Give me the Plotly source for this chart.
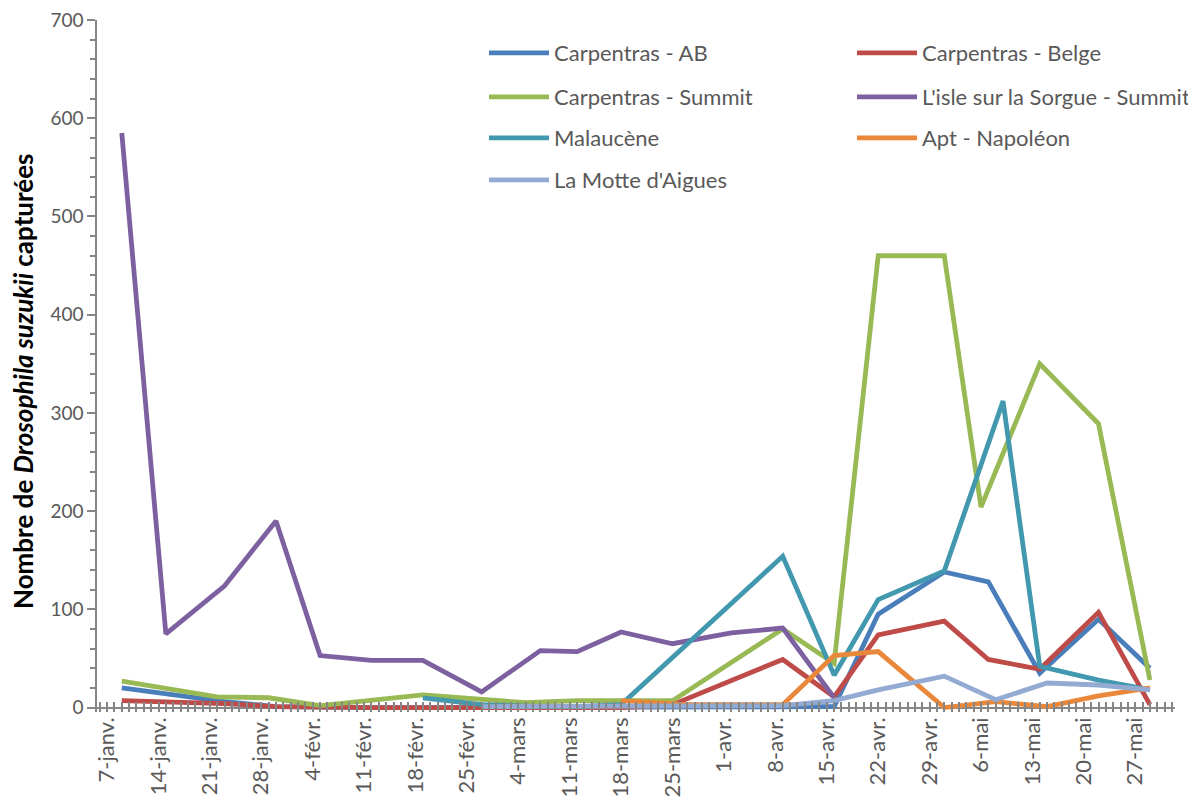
import plotly.graph_objects as go

# ---------------- data ----------------
week_ticks = ["2013-01-07", "2013-01-14", "2013-01-21", "2013-01-28", "2013-02-04",
              "2013-02-11", "2013-02-18", "2013-02-25", "2013-03-04", "2013-03-11",
              "2013-03-18", "2013-03-25", "2013-04-01", "2013-04-08", "2013-04-15",
              "2013-04-22", "2013-04-29", "2013-05-06", "2013-05-13", "2013-05-20",
              "2013-05-27"]
week_labels = ["7-janv.", "14-janv.", "21-janv.", "28-janv.", "4-févr.", "11-févr.",
               "18-févr.", "25-févr.", "4-mars", "11-mars", "18-mars", "25-mars",
               "1-avr.", "8-avr.", "15-avr.", "22-avr.", "29-avr.", "6-mai",
               "13-mai", "20-mai", "27-mai"]

ab_dates = ["2013-01-09", "2013-01-23", "2013-01-30", "2013-02-05", "2013-02-12",
            "2013-02-19", "2013-02-27", "2013-03-07", "2013-03-12", "2013-03-18",
            "2013-03-25", "2013-04-02", "2013-04-09", "2013-04-16", "2013-04-22",
            "2013-05-01", "2013-05-07", "2013-05-14", "2013-05-22", "2013-05-29"]
ab_values = [20, 6, 1, 0, 0, 0, 0, 0, 0, 0, 0, 0, 0, 1, 95, 138, 128, 35, 90, 40]

belge_dates = ["2013-01-09", "2013-01-23", "2013-01-30", "2013-02-05", "2013-02-12",
               "2013-02-19", "2013-02-27", "2013-03-07", "2013-03-12", "2013-03-18",
               "2013-03-25", "2013-04-09", "2013-04-16", "2013-04-22", "2013-05-01",
               "2013-05-07", "2013-05-14", "2013-05-22", "2013-05-29"]
belge_values = [7, 4, 1, 0, 0, 0, 0, 0, 0, 0, 3, 49, 11, 74, 88, 49, 39, 97, 3]

summit_dates = ["2013-01-09", "2013-01-22", "2013-01-29", "2013-02-05", "2013-02-19",
                "2013-03-05", "2013-03-12", "2013-03-18", "2013-03-25", "2013-04-09",
                "2013-04-16", "2013-04-22", "2013-05-01", "2013-05-06", "2013-05-14",
                "2013-05-22", "2013-05-29"]
summit_values = [27, 11, 10, 2, 13, 5, 7, 7, 7, 80, 45, 460, 460, 204, 350, 289, 28]

isle_dates = ["2013-01-09", "2013-01-15", "2013-01-23", "2013-01-30", "2013-02-05",
              "2013-02-12", "2013-02-19", "2013-02-27", "2013-03-07", "2013-03-12",
              "2013-03-18", "2013-03-25", "2013-04-02", "2013-04-09", "2013-04-16"]
isle_values = [585, 75, 124, 190, 53, 48, 48, 16, 58, 57, 77, 65, 76, 81, 10]

malau_dates = ["2013-02-19", "2013-02-27", "2013-03-07", "2013-03-12", "2013-03-18",
               "2013-04-09", "2013-04-16", "2013-04-22", "2013-05-01", "2013-05-09",
               "2013-05-14", "2013-05-22", "2013-05-29"]
malau_values = [10, 3, 1, 1, 3, 154, 33, 110, 139, 312, 42, 28, 18]

apt_dates = ["2013-03-18", "2013-03-27", "2013-04-09", "2013-04-16", "2013-04-22",
             "2013-05-01", "2013-05-08", "2013-05-15", "2013-05-22", "2013-05-29"]
apt_values = [7, 3, 3, 53, 57, 0, 6, 1, 12, 20]

motte_dates = ["2013-02-27", "2013-03-07", "2013-03-12", "2013-03-18", "2013-03-25",
               "2013-04-02", "2013-04-09", "2013-04-16", "2013-04-22", "2013-05-01",
               "2013-05-08", "2013-05-15", "2013-05-22", "2013-05-29"]
motte_values = [1, 1, 1, 2, 2, 2, 2, 7, 18, 32, 8, 25, 23, 18]

series_names = ["Carpentras - AB", "Carpentras - Belge", "Carpentras - Summit",
                "L'isle sur la Sorgue - Summit", "Malaucène", "Apt - Napoléon",
                "La Motte d'Aigues"]
series_dates = [ab_dates, belge_dates, summit_dates, isle_dates, malau_dates,
                apt_dates, motte_dates]
series_values = [ab_values, belge_values, summit_values, isle_values, malau_values,
                 apt_values, motte_values]

# ---------------- style ----------------
colors = ["#4A7EBB", "#BE4B48", "#98B954", "#7D60A0", "#4198AF", "#E9883B", "#93AAD2"]
FONT = "Lato"
GREY = "#595959"
AXIS = "#868686"

OFF = 8                      # page body margin offset (top/left)
W, H = 1196 - OFF, 799 - OFF
ML, MR, MT, MB = 97 - OFF, 21, 20 - OFF, 87

fig = go.Figure()

# legend placement (two columns, four rows) in figure pixels
leg_cols = [0, 1, 0, 1, 0, 1, 0]
leg_rows = [0, 0, 1, 1, 2, 2, 3]
col_px = [484 - OFF, 852 - OFF]
row_px = [53 - OFF, 97 - OFF, 138 - OFF, 180 - OFF]
pw = W - ML - MR
ph = H - MT - MB

legend_layout = {}
for i, (name, xd, yv, c) in enumerate(zip(series_names, series_dates, series_values, colors)):
    lname = "legend" if i == 0 else f"legend{i + 1}"
    fig.add_trace(go.Scatter(
        x=xd, y=yv, name=name, mode="lines",
        line=dict(color=c, width=4.8),
        legend=lname, hoverinfo="x+y+name",
    ))
    legend_layout[lname] = dict(
        x=(col_px[leg_cols[i]] - ML) / pw,
        y=(H - MB - row_px[leg_rows[i]]) / ph,
        xanchor="left", yanchor="middle",
        bgcolor="rgba(0,0,0,0)",
        font=dict(family=FONT, size=22, color=GREY),
        itemwidth=60,
    )

fig.update_layout(
    width=W, height=H,
    margin=dict(l=ML, r=MR, t=MT, b=MB, autoexpand=False),
    paper_bgcolor="white", plot_bgcolor="white",
    showlegend=True,
    font=dict(family=FONT, color=GREY, size=20),
    **legend_layout,
)

fig.update_xaxes(
    type="date", automargin=False,
    range=["2013-01-05 15:00", "2013-06-01 10:00"],
    tickmode="array", tickvals=week_ticks, ticktext=week_labels,
    tickangle=-90, ticklabeloverflow="allow",
    tickfont=dict(family=FONT, size=22, color=GREY),
    ticks="inside", ticklen=10, tickwidth=1.5, tickcolor=AXIS,
    minor=dict(tickmode="linear", dtick=86400000, tick0="2013-01-01",
               ticks="inside", ticklen=10, tickwidth=1.5, tickcolor=AXIS),
    showline=False, showgrid=False, zeroline=False,
)

fig.update_yaxes(
    automargin=False,
    range=[-4.5, 700],
    tickmode="array", tickvals=[0, 100, 200, 300, 400, 500, 600, 700],
    ticklabeloverflow="allow",
    tickfont=dict(family=FONT, size=19, color=GREY),
    ticks="outside", ticklen=8, tickwidth=1.5, tickcolor=AXIS,
    minor=dict(tickmode="linear", tick0=0, dtick=20, ticks="outside",
               ticklen=5, tickwidth=1.5, tickcolor=AXIS, showgrid=False),
    showline=True, linecolor=AXIS, linewidth=1.5,
    showgrid=False,
    zeroline=True, zerolinecolor=AXIS, zerolinewidth=1.5,
)

fig.add_annotation(
    text="<b>Nombre de <i>Drosophila suzukii</i> capturées</b>",
    xref="paper", yref="paper",
    x=-(ML - (23 - OFF)) / pw, y=(H - MB - (381 - OFF)) / ph,
    xanchor="center", yanchor="middle",
    textangle=-90, showarrow=False,
    font=dict(family=FONT, size=26, color="black"),
)

fig.write_html("out.html")
